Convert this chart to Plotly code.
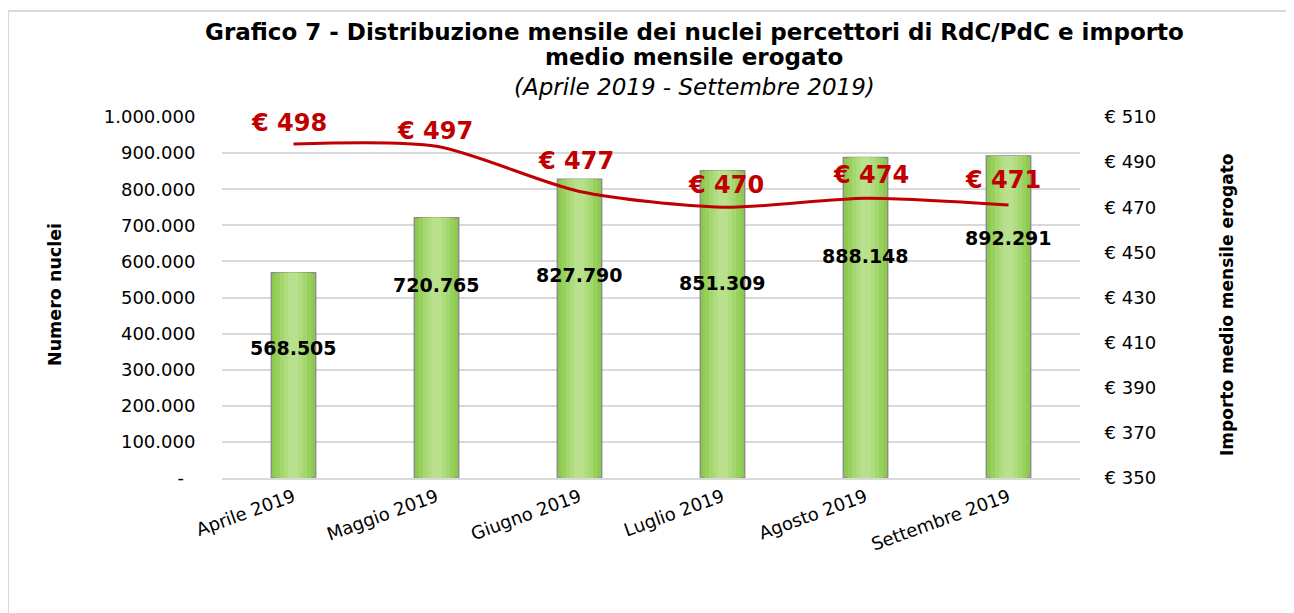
import plotly.graph_objects as go

# ---- data ----
months = ["Aprile 2019", "Maggio 2019", "Giugno 2019", "Luglio 2019", "Agosto 2019", "Settembre 2019"]
nuclei = [568505, 720765, 827790, 851309, 888148, 892291]
importo = [498, 497, 477, 470, 474, 471]
left_tickvals = [0, 100000, 200000, 300000, 400000, 500000, 600000, 700000, 800000, 900000, 1000000]
left_ticktext = ["-\u00a0\u00a0", "100.000", "200.000", "300.000", "400.000", "500.000",
                 "600.000", "700.000", "800.000", "900.000", "1.000.000"]

# ---- layout constants (pixels, in screenshot coords) ----
W, H = 1294, 613
OFF = 8  # page body margin
L, R, T, B = 222, 1080, 117, 478

def px(x):
    return (x - L) / (R - L)

def py(y):
    return (B - y) / (B - T)

FONT = "DejaVu Sans"
RED = "#C00000"

def fmt_it(v):
    return f"{v:,}".replace(",", ".")

fig = go.Figure()

# bars with a stepped "gradient"
bar_layers = [(0.31, "#8DCB4E"), (0.25, "#98D05D"), (0.19, "#A4D76E"), (0.13, "#AFDC7E"), (0.07, "#B9E18D")]
for i, (w, c) in enumerate(bar_layers):
    line = dict(color="#8C8C8C", width=1.5) if i == 0 else dict(width=0)
    fig.add_trace(go.Bar(x=months, y=nuclei, width=w, marker=dict(color=c, line=line),
                         hoverinfo="skip", showlegend=False))

# line
fig.add_trace(go.Scatter(x=months, y=importo, yaxis="y2", mode="lines",
                         line=dict(color=RED, width=3, shape="spline", smoothing=0.75),
                         hoverinfo="skip", showlegend=False))

annotations = []
# bar value labels (offsets below bar top, px)
bar_label_drop = [75, 67, 96, 112, 99, 82]
for m, v, d in zip(months, nuclei, bar_label_drop):
    annotations.append(dict(x=m, y=v, xref="x", yref="y", text="<b>" + fmt_it(v) + "</b>",
                            showarrow=False, yshift=-d, font=dict(family=FONT, size=19, color="black")))
# line value labels
line_label_dy = [21, 15, 30, 22, 23, 25]
line_label_dx = [-5, -2, -4, 3, 5, -6]
for m, v, dy, dx in zip(months, importo, line_label_dy, line_label_dx):
    annotations.append(dict(x=m, y=v, xref="x", yref="y2", text="<b>€ " + str(v) + "</b>",
                            showarrow=False, yshift=dy, xshift=dx,
                            font=dict(family=FONT, size=24, color=RED)))

# title
annotations.append(dict(x=px(694), y=py(32), xref="paper", yref="paper", showarrow=False,
                        text="<b>Grafico 7 - Distribuzione mensile dei nuclei percettori di RdC/PdC e importo</b>",
                        font=dict(family=FONT, size=23, color="black"),
                        xanchor="center", yanchor="middle"))
annotations.append(dict(x=px(694), y=py(57), xref="paper", yref="paper", showarrow=False,
                        text="<b>medio mensile erogato</b>",
                        font=dict(family=FONT, size=23, color="black"),
                        xanchor="center", yanchor="middle"))
annotations.append(dict(x=px(694), y=py(87), xref="paper", yref="paper", showarrow=False,
                        text="<i>(Aprile 2019 - Settembre 2019)</i>",
                        font=dict(family=FONT, size=23, color="black"),
                        xanchor="center", yanchor="middle"))
# axis titles
annotations.append(dict(x=px(55), y=py(295), xref="paper", yref="paper", showarrow=False,
                        text="<b>Numero nuclei</b>", textangle=-90,
                        xanchor="center", yanchor="middle",
                        font=dict(family=FONT, size=17.5, color="black")))
annotations.append(dict(x=px(1227), y=py(305), xref="paper", yref="paper", showarrow=False,
                        text="<b>Importo medio mensile erogato</b>", textangle=-90,
                        xanchor="center", yanchor="middle",
                        font=dict(family=FONT, size=17, color="black")))

fig.update_layout(
    width=W, height=H,
    margin=dict(l=L - OFF, r=W - R + OFF, t=T - OFF, b=H - B + OFF),
    paper_bgcolor="white", plot_bgcolor="white",
    barmode="overlay",
    showlegend=False,
    font=dict(family=FONT, size=18, color="black"),
    xaxis=dict(showgrid=False, showline=True, linecolor="#D9D9D9", linewidth=1.5,
               tickangle=-20, tickfont=dict(size=18), ticks="", fixedrange=True),
    yaxis=dict(range=[0, 1000000], tickvals=left_tickvals, ticktext=left_ticktext,
               showgrid=True, gridcolor="#D9D9D9", gridwidth=1.5, zeroline=False,
               ticks="outside", ticklen=22, tickcolor="rgba(0,0,0,0)", showline=False,
               tickfont=dict(size=18)),
    yaxis2=dict(range=[350, 510], dtick=20, tick0=350, tickprefix="€ ", overlaying="y", side="right",
                showgrid=False, zeroline=False, ticks="outside", ticklen=20,
                tickcolor="rgba(0,0,0,0)", tickfont=dict(size=18)),
    annotations=annotations,
    shapes=[dict(type="rect", xref="paper", yref="paper", x0=px(8), y0=py(11), x1=px(1400), y1=py(700),
                 line=dict(color="#D9D9D9", width=2), fillcolor="rgba(0,0,0,0)", layer="below")],
)

fig.write_html("out.html")
